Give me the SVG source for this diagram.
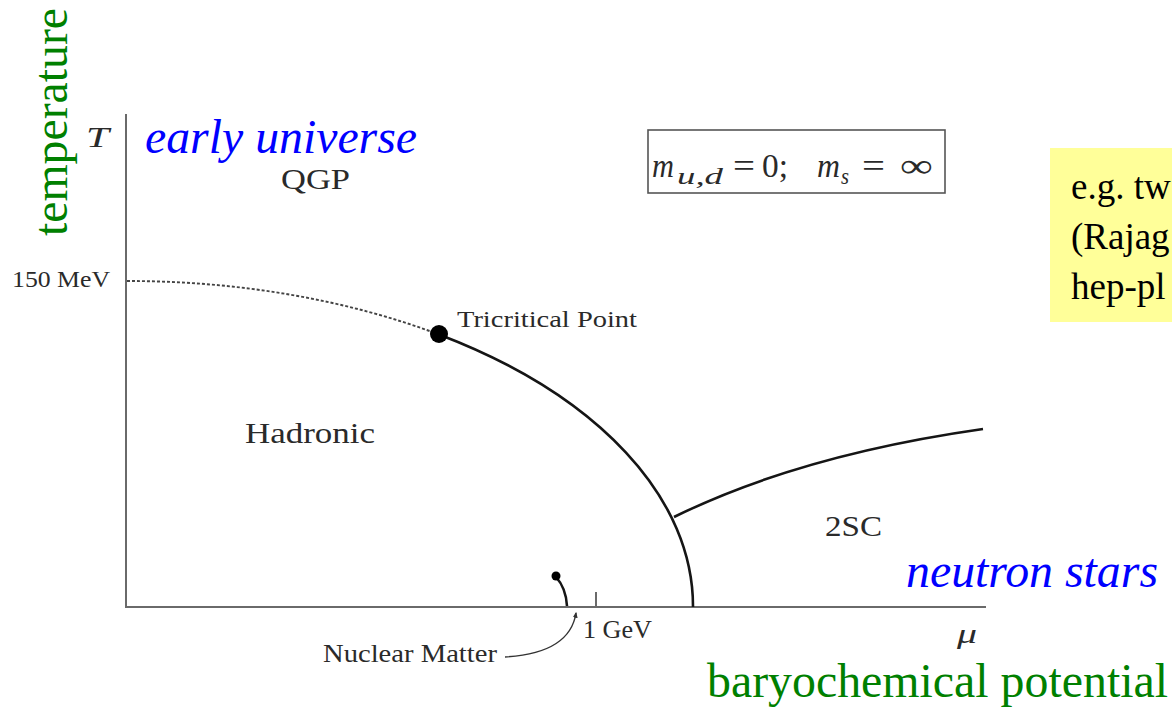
<svg xmlns="http://www.w3.org/2000/svg" width="1172" height="707" viewBox="0 0 1172 707">
<style>
.cm{font-family:"Liberation Serif","Times New Roman",Tinos,Times,"DejaVu Serif",serif;fill:#2a2a2a}
.it{font-style:italic}
.blue{font-family:"Liberation Serif","Times New Roman",Tinos,Times,"DejaVu Serif",serif;font-style:italic;font-size:48px;fill:#0000ff}
.green{font-family:"Liberation Serif","Times New Roman",Tinos,Times,"DejaVu Serif",serif;font-size:48px;fill:#008000}
.note{font-family:"Liberation Serif","Times New Roman",Tinos,Times,"DejaVu Serif",serif;font-size:37px;fill:#000}
.axis{stroke:#6a6a6a;stroke-width:2;fill:none}
.solid{stroke:#151515;stroke-width:2.6;fill:none}
.dash{stroke:#444;stroke-width:1.9;stroke-dasharray:3 2;fill:none}
</style>
<defs>
<marker id="ah" viewBox="0 0 10 10" refX="8" refY="5" markerWidth="6" markerHeight="6" orient="auto" markerUnits="userSpaceOnUse">
<path d="M0,1 L10,5 L0,9 Z" fill="#333"/>
</marker>
</defs>
<rect width="1172" height="707" fill="#fff"/>

<g id="axes">
<line class="axis" x1="126" y1="114" x2="126" y2="607"/>
<line class="axis" x1="125" y1="607" x2="986" y2="607"/>
<line class="axis" x1="596" y1="592" x2="596" y2="607" stroke-width="1.5"/>
</g>

<g id="connectors">
<path id="crossover" class="dash" d="M127,281 A567,326 0 0 1 439,334.5"/>
<path id="first-order" class="solid" d="M439,334.5 A567,326 0 0 1 693,607"/>
<path id="twosc-line" class="solid" d="M674,517 Q800,455 983,429"/>
<path id="nuclear-line" class="solid" d="M556,577 Q566,588 567,606"/>
<path id="nuclear-arrow" fill="none" stroke="#333" stroke-width="1.4" d="M505,657 C540,655 571,645 576,613" marker-end="url(#ah)"/>
</g>

<g id="tricritical-point">
<circle cx="439" cy="334" r="9" fill="#000"/>
<text class="cm" x="457" y="327" font-size="24" textLength="180" lengthAdjust="spacingAndGlyphs">Tricritical Point</text>
</g>
<g id="nuclear-dot"><circle cx="556" cy="576" r="4.5" fill="#000"/></g>

<g id="labels">
<text class="cm it" x="86" y="147" font-size="30" textLength="23" lengthAdjust="spacingAndGlyphs">T</text>
<text class="cm" x="12" y="287" font-size="24" textLength="98" lengthAdjust="spacingAndGlyphs">150 MeV</text>
<text class="cm" x="281" y="189" font-size="29" textLength="69" lengthAdjust="spacingAndGlyphs">QGP</text>
<text class="cm" x="245" y="443" font-size="30" textLength="130" lengthAdjust="spacingAndGlyphs">Hadronic</text>
<text class="cm" x="825" y="536" font-size="30" textLength="57" lengthAdjust="spacingAndGlyphs">2SC</text>
<text class="cm" x="583" y="638" font-size="25" textLength="69" lengthAdjust="spacingAndGlyphs">1 GeV</text>
<text class="cm" x="323" y="662" font-size="25" textLength="174" lengthAdjust="spacingAndGlyphs">Nuclear Matter</text>
<text class="cm it" x="957" y="643" font-size="28" textLength="20" lengthAdjust="spacingAndGlyphs">μ</text>
</g>

<g id="mass-box">
<rect x="648" y="130" width="297" height="63" fill="#fff" stroke="#555" stroke-width="1.6"/>
<text class="cm it" x="652" y="177" font-size="34" textLength="22" lengthAdjust="spacingAndGlyphs">m</text>
<text class="cm it" x="677" y="184" font-size="23" textLength="46" lengthAdjust="spacingAndGlyphs">u,d</text>
<text class="cm" x="733" y="177" font-size="34" textLength="22" lengthAdjust="spacingAndGlyphs">=</text>
<text class="cm" x="762" y="177" font-size="34" textLength="26" lengthAdjust="spacingAndGlyphs">0;</text>
<text class="cm it" x="817" y="177" font-size="34" textLength="23" lengthAdjust="spacingAndGlyphs">m</text>
<text class="cm it" x="841" y="184" font-size="23" textLength="8" lengthAdjust="spacingAndGlyphs">s</text>
<text class="cm" x="862" y="177" font-size="34" textLength="23" lengthAdjust="spacingAndGlyphs">=</text>
<text class="cm" x="900" y="177" font-size="34" textLength="33" lengthAdjust="spacingAndGlyphs">∞</text>
</g>

<g id="annotations">
<text class="green" transform="translate(67,236) rotate(-90)" textLength="228" lengthAdjust="spacingAndGlyphs">temperature</text>
<text class="blue" x="145" y="153" textLength="272" lengthAdjust="spacingAndGlyphs">early universe</text>
<text class="blue" x="906" y="587" textLength="252" lengthAdjust="spacingAndGlyphs">neutron stars</text>
<text class="green" x="707" y="697" textLength="461" lengthAdjust="spacingAndGlyphs">baryochemical potential</text>
</g>

<g id="note-box">
<rect x="1050" y="148" width="130" height="174" fill="#ffff99"/>
<text class="note" x="1071" y="199" xml:space="preserve">e.g. tw</text>
<text class="note" x="1071" y="249">(Rajag</text>
<text class="note" x="1071" y="299">hep-pl</text>
</g>
</svg>
